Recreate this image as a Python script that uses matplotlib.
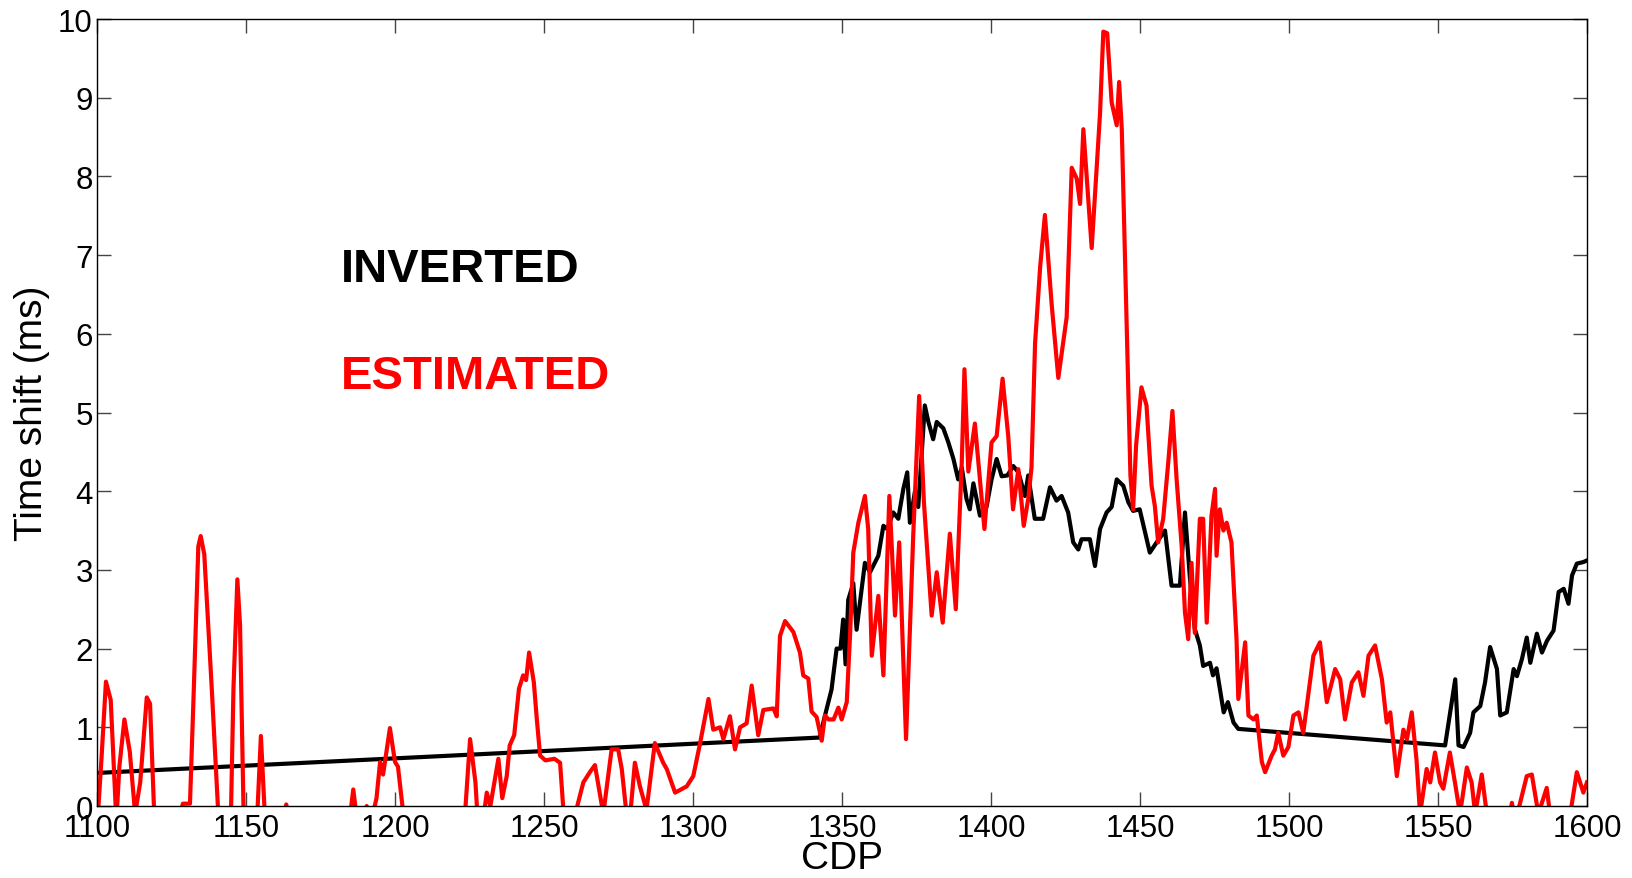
import matplotlib.pyplot as plt

# ESTIMATED time shift (red)
est_cdp = [1100.0, 1101.5, 1103.0, 1104.6, 1106.5, 1107.5, 1109.2, 1111.0, 1112.8, 1114.5,
           1116.7, 1117.8, 1119.2, 1121.0, 1125.0, 1128.8, 1131.2, 1132.5, 1134.0, 1134.8,
           1136.0, 1138.5, 1140.7, 1142.0, 1144.9, 1145.8, 1147.1, 1148.0, 1149.2, 1151.0,
           1153.8, 1155.0, 1156.3, 1158.0, 1162.0, 1163.5, 1164.8, 1170.0, 1180.0, 1185.0,
           1186.0, 1187.0, 1189.0, 1190.5, 1192.0, 1193.8, 1195.0, 1196.0, 1198.3, 1200.0,
           1201.0, 1202.8, 1205.0, 1215.0, 1223.5, 1225.2, 1227.0, 1227.8, 1229.5, 1230.8,
           1232.0, 1234.7, 1236.0, 1237.5, 1238.5, 1240.0, 1241.6, 1243.0, 1244.0, 1245.0,
           1246.6, 1247.6, 1248.7, 1250.5, 1253.5, 1255.4, 1256.6, 1258.0, 1260.5, 1263.2,
           1265.4, 1267.1, 1269.9, 1272.7, 1274.9, 1276.1, 1277.7, 1278.5, 1280.5, 1282.2,
           1284.4, 1287.2, 1290.0, 1291.2, 1294.0, 1297.9, 1300.1, 1302.4, 1305.2, 1306.8,
           1309.1, 1310.2, 1312.4, 1314.1, 1315.8, 1318.0, 1319.7, 1321.9, 1323.6, 1327.0,
           1328.1, 1329.2, 1330.9, 1333.7, 1335.9, 1337.0, 1338.7, 1339.8, 1341.5, 1343.2,
           1344.3, 1345.5, 1347.2, 1348.8, 1349.9, 1351.6, 1352.7, 1353.8, 1355.5, 1357.7,
           1358.8, 1360.0, 1362.2, 1363.9, 1365.9, 1367.8, 1369.2, 1371.5, 1373.9, 1375.9,
           1377.5, 1380.1, 1381.8, 1383.8, 1386.2, 1388.2, 1390.2, 1391.1, 1392.4, 1394.6,
           1397.8, 1400.2, 1401.9, 1403.9, 1405.8, 1407.4, 1409.2, 1411.0, 1412.5, 1413.6,
           1414.8, 1416.5, 1418.1, 1420.4, 1422.6, 1425.4, 1427.1, 1428.8, 1429.9, 1431.0,
           1433.8, 1436.6, 1437.7, 1439.0, 1440.5, 1442.2, 1443.0, 1443.9, 1445.3, 1446.8,
           1447.7, 1448.7, 1450.5, 1452.2, 1453.9, 1455.0, 1456.1, 1457.8, 1459.5, 1460.9,
           1462.3, 1464.0, 1465.1, 1466.2, 1467.3, 1468.4, 1470.1, 1471.2, 1472.4, 1474.0,
           1475.2, 1475.7, 1476.8, 1478.0, 1479.1, 1480.7, 1482.4, 1483.0, 1485.3, 1486.4,
           1488.1, 1489.2, 1490.9, 1492.0, 1494.2, 1495.3, 1496.4, 1498.1, 1499.8, 1501.5,
           1503.2, 1504.8, 1508.2, 1510.4, 1512.7, 1515.5, 1517.2, 1518.8, 1521.1, 1523.3,
           1525.0, 1526.7, 1528.9, 1531.2, 1532.8, 1534.0, 1536.2, 1538.4, 1539.6, 1541.2,
           1542.8, 1544.0, 1546.2, 1547.4, 1549.0, 1550.7, 1551.8, 1554.0, 1555.7, 1557.4,
           1559.7, 1561.3, 1562.5, 1564.7, 1566.4, 1568.0, 1573.5, 1574.8, 1576.0, 1579.8,
           1581.5, 1583.7, 1586.5, 1587.6, 1590.0, 1594.4, 1596.6, 1598.8, 1600.0]
est_ms = [-0.3, 0.6, 1.58, 1.35, -0.2, 0.5, 1.1, 0.69, -0.1, 0.3,
          1.38, 1.3, -0.1, -0.6, -0.6, 0.03, 0.03, 1.5, 3.3, 3.43,
          3.2, 1.5, -0.1, -0.5, -0.2, 1.5, 2.88, 2.3, -0.1, -0.4,
          -0.1, 0.89, -0.1, -0.5, -0.3, 0.02, -0.2, -0.6, -0.5, -0.1,
          0.21, -0.1, -0.3, 0.0, -0.2, 0.1, 0.56, 0.4, 0.99, 0.56,
          0.5, -0.1, -0.5, -0.5, -0.1, 0.85, 0.3, -0.2, -0.2, 0.17,
          0.0, 0.6, 0.1, 0.38, 0.77, 0.9, 1.49, 1.66, 1.6, 1.95,
          1.57, 1.1, 0.64, 0.58, 0.6, 0.55, -0.1, -0.5, -0.1, 0.3,
          0.43, 0.52, -0.1, 0.72, 0.72, 0.47, -0.1, -0.3, 0.55, 0.25,
          -0.05, 0.8, 0.55, 0.47, 0.17, 0.25, 0.38, 0.8, 1.36, 0.97,
          1.0, 0.85, 1.14, 0.72, 1.0, 1.05, 1.53, 0.9, 1.22, 1.24,
          1.14, 2.16, 2.35, 2.21, 1.95, 1.66, 1.62, 1.2, 1.13, 0.83,
          1.15, 1.1, 1.1, 1.25, 1.1, 1.32, 2.16, 3.22, 3.6, 3.94,
          3.52, 1.91, 2.67, 1.66, 3.94, 2.42, 3.35, 0.85, 3.43, 5.21,
          3.86, 2.42, 2.97, 2.33, 3.46, 2.5, 4.37, 5.55, 4.25, 4.86,
          3.52, 4.62, 4.7, 5.43, 4.7, 3.77, 4.28, 3.56, 3.9, 4.3,
          5.88, 6.85, 7.51, 6.36, 5.44, 6.21, 8.11, 7.97, 7.65, 8.6,
          7.09, 8.8, 9.84, 9.82, 8.94, 8.65, 9.2, 8.6, 6.5, 4.2,
          3.77, 4.58, 5.32, 5.09, 4.07, 3.81, 3.35, 3.65, 4.37, 5.02,
          4.15, 3.3, 2.46, 2.12, 3.09, 2.2, 3.65, 3.65, 2.33, 3.69,
          4.03, 3.18, 3.77, 3.5, 3.6, 3.35, 2.12, 1.36, 2.08, 1.15,
          1.1, 1.15, 0.56, 0.43, 0.64, 0.72, 0.93, 0.64, 0.75, 1.15,
          1.19, 0.93, 1.91, 2.08, 1.32, 1.74, 1.61, 1.1, 1.57, 1.7,
          1.4, 1.91, 2.04, 1.61, 1.06, 1.19, 0.38, 0.97, 0.85, 1.19,
          0.59, -0.1, 0.47, 0.3, 0.68, 0.3, 0.22, 0.68, 0.3, -0.1,
          0.49, 0.3, -0.1, 0.4, -0.1, -0.5, -0.3, 0.04, -0.2, 0.38,
          0.4, -0.1, 0.23, -0.1, -0.4, -0.1, 0.43, 0.17, 0.3]

# INVERTED time shift (black)
inv_cdp = [1100.0, 1342.5, 1344.3, 1346.5, 1348.2, 1349.5, 1350.4, 1351.2, 1352.1, 1353.8,
           1354.9, 1357.7, 1359.4, 1362.2, 1363.9, 1365.2, 1367.2, 1368.9, 1370.6, 1371.9,
           1372.8, 1374.5, 1375.6, 1377.8, 1379.0, 1380.6, 1381.8, 1384.0, 1385.7, 1387.4,
           1389.0, 1390.2, 1391.8, 1392.9, 1394.1, 1396.3, 1398.5, 1400.2, 1401.9, 1403.6,
           1405.5, 1407.5, 1409.2, 1411.4, 1412.5, 1414.7, 1417.5, 1419.8, 1422.0, 1423.7,
           1425.9, 1427.6, 1429.3, 1430.4, 1433.2, 1434.9, 1436.6, 1438.8, 1440.5, 1442.2,
           1444.4, 1446.1, 1447.7, 1449.9, 1451.7, 1453.3, 1455.6, 1458.4, 1460.6, 1463.4,
           1465.1, 1466.8, 1468.4, 1470.1, 1471.2, 1473.5, 1474.5, 1475.7, 1478.1, 1479.5,
           1481.4, 1483.0, 1552.4, 1555.8, 1556.9, 1558.6, 1560.8, 1561.9, 1564.2, 1565.8,
           1567.5, 1569.8, 1570.9, 1573.1, 1575.4, 1576.5, 1578.2, 1579.8, 1581.0, 1583.2,
           1584.9, 1586.6, 1588.8, 1590.5, 1592.2, 1593.8, 1595.0, 1596.6, 1598.8, 1600.0]
inv_ms = [0.42, 0.87, 1.15, 1.48, 2.0, 2.0, 2.37, 1.8, 2.62, 2.83,
          2.24, 3.09, 2.97, 3.18, 3.56, 3.52, 3.73, 3.65, 4.03, 4.24,
          3.6, 4.0, 3.8, 5.09, 4.88, 4.66, 4.88, 4.8, 4.62, 4.41,
          4.15, 4.3, 3.9, 3.77, 4.1, 3.69, 3.8, 4.15, 4.41, 4.19,
          4.2, 4.32, 4.24, 3.94, 4.2, 3.65, 3.65, 4.05, 3.88, 3.94,
          3.73, 3.35, 3.26, 3.39, 3.39, 3.05, 3.52, 3.73, 3.8, 4.15,
          4.07, 3.86, 3.75, 3.77, 3.48, 3.22, 3.35, 3.5, 2.8, 2.8,
          3.73, 2.88, 2.25, 2.04, 1.78, 1.82, 1.66, 1.75, 1.19, 1.32,
          1.06, 0.98, 0.77, 1.61, 0.77, 0.75, 0.93, 1.19, 1.27, 1.57,
          2.02, 1.74, 1.15, 1.19, 1.74, 1.65, 1.87, 2.14, 1.82, 2.19,
          1.95, 2.1, 2.23, 2.72, 2.76, 2.57, 2.93, 3.08, 3.1, 3.12]

x_ticks = [1100, 1150, 1200, 1250, 1300, 1350, 1400, 1450, 1500, 1550, 1600]
y_ticks = list(range(0, 11))

plt.rcParams['font.family'] = ['Liberation Sans', 'DejaVu Sans']

fig = plt.figure(figsize=(16.33, 8.79), dpi=100)
ax = fig.add_axes([0.0594, 0.0819, 0.9124, 0.8953])

ax.plot(inv_cdp, inv_ms, color='black', lw=3.0)
ax.plot(est_cdp, est_ms, color='#ff0000', lw=3.0)

ax.text(1181.8, 6.67, 'INVERTED', color='black', fontsize=34, fontweight='bold',
        ha='left', va='baseline')
ax.text(1181.8, 5.31, 'ESTIMATED', color='#ff0000', fontsize=34, fontweight='bold',
        ha='left', va='baseline')

ax.set_xlim(1100, 1600)
ax.set_ylim(0, 10)
ax.set_xticks(x_ticks)
ax.set_yticks(y_ticks)
ax.tick_params(direction='in', length=10, width=1, color='#444444',
               top=True, right=True, labelsize=22.5)
ax.tick_params(axis='x', pad=5)
ax.tick_params(axis='y', pad=3)
for s in ax.spines.values():
    s.set_linewidth(1)
ax.set_xlabel('CDP', fontsize=28, labelpad=-2)
ax.set_ylabel('Time shift (ms)', fontsize=28, labelpad=6)

fig.savefig('out.png', dpi=100)
